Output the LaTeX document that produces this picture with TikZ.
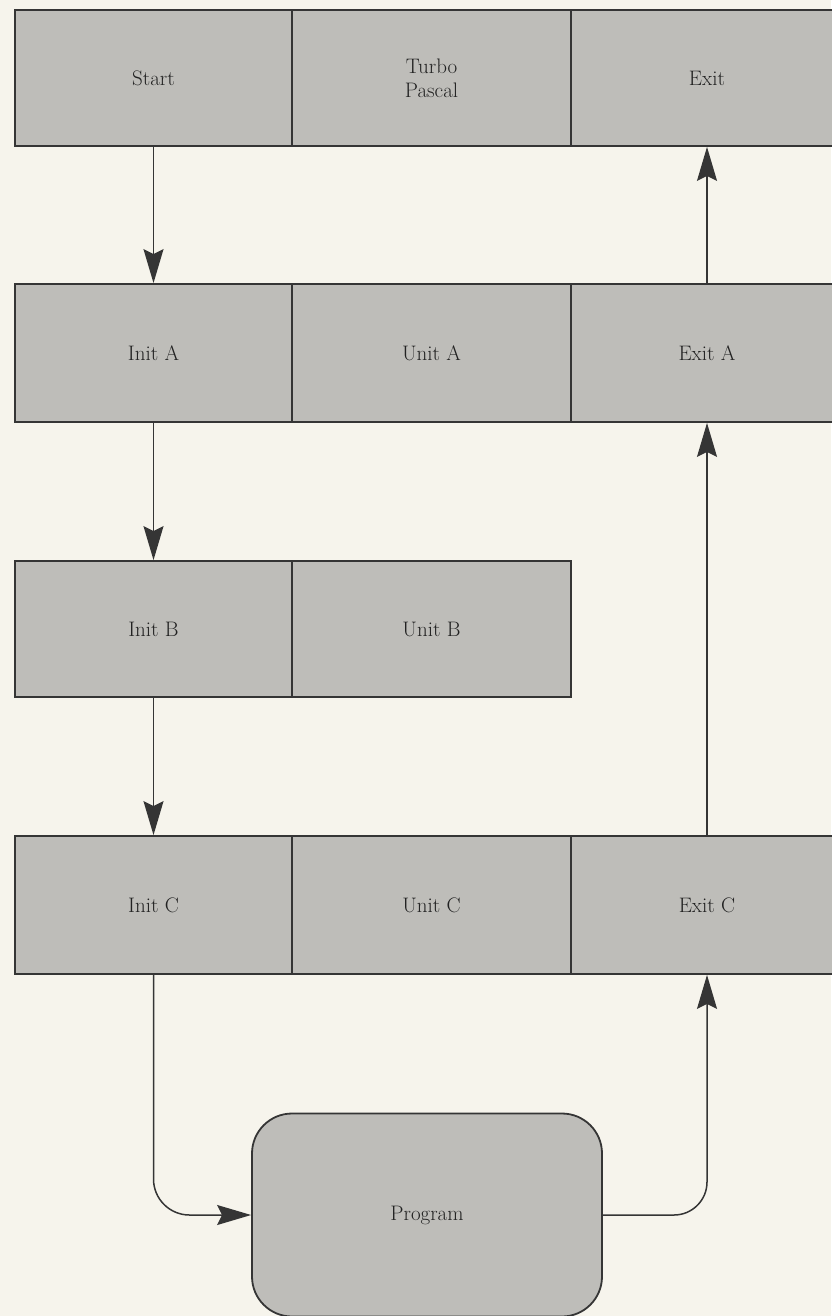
\documentclass[tikz,border=0pt]{standalone}
\usetikzlibrary{arrows.meta}
\definecolor{paper}{HTML}{F6F4EC}
\definecolor{cellgray}{HTML}{BEBDB9}
\definecolor{ink}{HTML}{353535}
\definecolor{textink}{HTML}{222222}
\begin{document}
\begin{tikzpicture}[x=1pt,y=-1pt,
  label/.style={font=\fontsize{21}{24}\selectfont, text=textink},
  cell/.style={label, draw=ink, line width=1.8pt, fill=cellgray, inner sep=0pt, align=center},
  wideA/.style={cell, minimum width=277pt},
  wideB/.style={cell, minimum width=279pt},
  wideC/.style={cell, minimum width=272pt},
  tall/.style={minimum height=138pt},
  short/.style={minimum height=136pt},
  prog/.style={label, draw=ink, line width=1.8pt, fill=cellgray, rounded corners=40pt, minimum width=350pt, minimum height=203pt, inner sep=0pt},
  arr/.style={draw=ink, line width=1.5pt, -{Stealth[length=34pt, width=20pt, inset=5pt]}}
]
\fill[paper] (0,0) rectangle (831,1316);
\useasboundingbox (0,0) rectangle (831,1316);
% top row
\node[wideA, short] (start) at (153.5,78) {Start};
\node[wideB, short] (turbo) at (431.5,78) {Turbo\\Pascal};
\node[wideC, short] (exit) at (707,78) {Exit};
% unit A
\node[wideA, tall] (inita) at (153.5,353) {Init A};
\node[wideB, tall] (unita) at (431.5,353) {Unit A};
\node[wideC, tall] (exita) at (707,353) {Exit A};
% unit B
\node[wideA, short] (initb) at (153.5,629) {Init B};
\node[wideB, short] (unitb) at (431.5,629) {Unit B};
% unit C
\node[wideA, tall] (initc) at (153.5,905) {Init C};
\node[wideB, tall] (unitc) at (431.5,905) {Unit C};
\node[wideC, tall] (exitc) at (707,905) {Exit C};
% program
\node[prog] (program) at (427,1215) {Program};
% connectors
\draw[arr] (start.south) -- (inita.north);
\draw[arr] (inita.south) -- (initb.north);
\draw[arr] (initb.south) -- (initc.north);
\draw[arr, rounded corners=36pt] (initc.south) |- (program.west);
\draw[arr, rounded corners=33pt] (program.east) -| (exitc.south);
\draw[arr] (exitc.north) -- (exita.south);
\draw[arr] (exita.north) -- (exit.south);
\end{tikzpicture}
\end{document}
